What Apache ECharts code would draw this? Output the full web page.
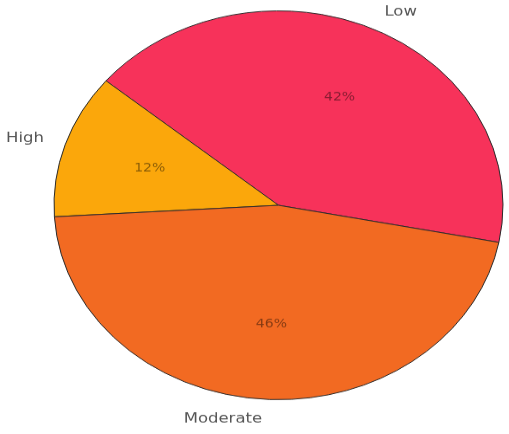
<!DOCTYPE html>
<html>
<head>
<meta charset="utf-8">
<script src="https://cdn.jsdelivr.net/npm/echarts@6/dist/echarts.min.js"></script>
<style>
  html, body { margin: 0; padding: 0; background: #fff; overflow: hidden; }
  #wrap { width: 509px; height: 434px; overflow: hidden; }
  /* matplotlib figure was stretched, so the pie is an ellipse: squash a round pie */
  #chart { width: 509px; height: 501px; transform: scaleY(0.866); transform-origin: 0 0; }
</style>
</head>
<body>
<div id="wrap"><div id="chart"></div></div>
<script>
const labels = ["Low", "High", "Moderate"];
const shares = [42, 12, 46];
const colors = ["#f7325a", "#fba70b", "#f26a22"];

const R = 224.5;
const pieData = labels.map((name, i) => ({
  name: name,
  value: shares[i],
  itemStyle: { color: colors[i] },
}));

const chart = echarts.init(document.getElementById("chart"));
chart.setOption({
  animation: false,
  series: [
    {
      // slices with category names outside
      type: "pie",
      center: [278.5, 237],
      radius: [0, R],
      startAngle: -11,
      clockwise: false,
      avoidLabelOverlap: false,
      silent: true,
      itemStyle: { borderColor: "#2a2a2a", borderWidth: 1 },
      label: {
        show: true,
        position: "outside",
        formatter: "{b}",
        fontFamily: "DejaVu Sans",
        fontSize: 16.5,
        color: "#555",
        padding: [6, 0, 0, 0],
        distanceToLabelLine: 0,
      },
      labelLine: { show: false, length: R * 0.1, length2: 0 },
      data: pieData,
    },
    {
      // transparent copy, only to place the percentages at 0.6 R
      type: "pie",
      center: [278.5, 237],
      radius: [0, R * 1.2],
      startAngle: -11,
      clockwise: false,
      silent: true,
      itemStyle: { color: "transparent", borderWidth: 0 },
      label: {
        show: true,
        position: "inside",
        formatter: (p) => p.value + "%",
        fontFamily: "DejaVu Sans",
        fontSize: 14,
        color: "rgba(0,0,0,0.45)",
        padding: [7, 0, 0, 4],
      },
      labelLine: { show: false },
      data: labels.map((name, i) => ({ name: name, value: shares[i] })),
    },
  ],
});
</script>
</body>
</html>
